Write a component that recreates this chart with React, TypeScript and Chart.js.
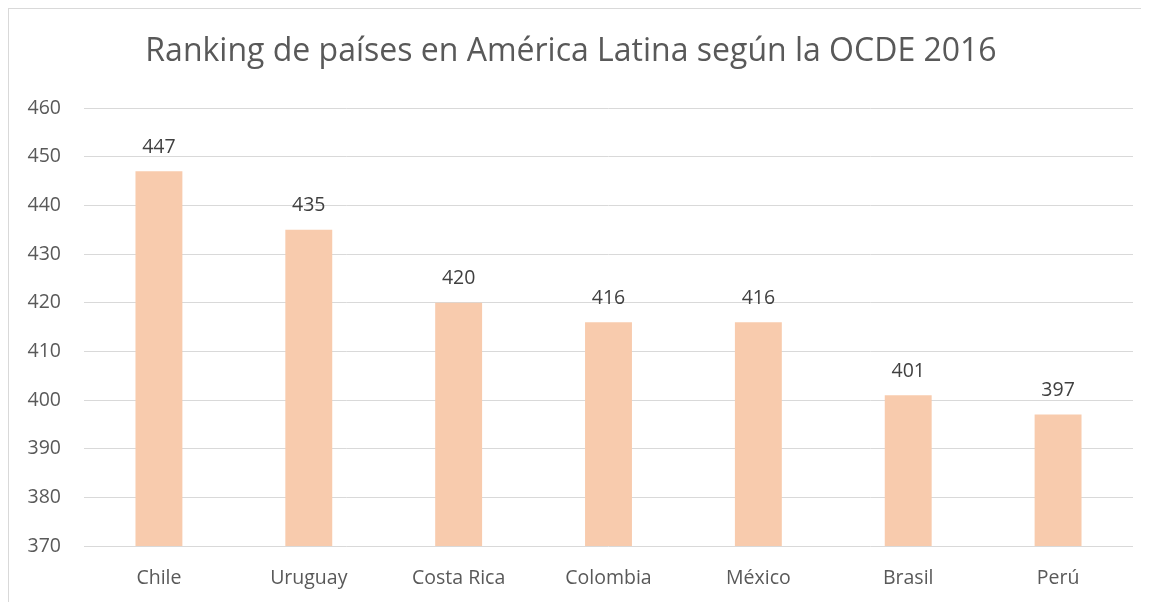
import React, { useEffect, useRef } from "react";
import { Chart, registerables } from "chart.js";

Chart.register(...registerables);

const TITLE = "Ranking de países en América Latina según la OCDE 2016";
const categories = ["Chile", "Uruguay", "Costa Rica", "Colombia", "México", "Brasil", "Perú"];
const scores = [447, 435, 420, 416, 416, 401, 397];
const Y_MIN = 370;
const Y_MAX = 460;
const Y_STEP = 10;

const FONT = "'Open Sans', sans-serif";

const dataLabels = {
  id: "dataLabels",
  afterDatasetsDraw(chart: any) {
    const ctx = chart.ctx;
    const meta = chart.getDatasetMeta(0);
    ctx.save();
    ctx.font = `19.5px ${FONT}`;
    ctx.fillStyle = "#404040";
    ctx.textAlign = "center";
    ctx.textBaseline = "middle";
    meta.data.forEach((bar: any, i: number) => {
      ctx.fillText(String(chart.data.datasets[0].data[i]), bar.x, bar.y - 24);
    });
    ctx.restore();
  },
};

export default function App() {
  const ref = useRef<HTMLCanvasElement | null>(null);
  useEffect(() => {
    if (!ref.current) return;
    const chart = new Chart(ref.current, {
      type: "bar",
      data: {
        labels: categories,
        datasets: [
          {
            data: scores,
            backgroundColor: "#F8CBAD",
            categoryPercentage: 1,
            barPercentage: 0.313,
          },
        ],
      },
      options: {
        animation: false,
        responsive: true,
        maintainAspectRatio: false,
        layout: { padding: { left: 0, right: 16, top: 0, bottom: 0 } },
        plugins: {
          legend: { display: false },
          tooltip: { enabled: false },
          title: {
            display: true,
            text: TITLE,
            color: "#595959",
            font: { family: FONT, size: 32, weight: "normal" },
            padding: { top: 24, bottom: 36.6 },
          },
        },
        scales: {
          x: {
            grid: { display: false },
            border: { display: false },
            ticks: { color: "#595959", font: { family: FONT, size: 19.5 }, padding: 13 },
            afterFit: (s: any) => {
              s.height = 56;
            },
          },
          y: {
            min: Y_MIN,
            max: Y_MAX,
            ticks: { stepSize: Y_STEP, color: "#595959", font: { family: FONT, size: 19.5 }, padding: 23 },
            grid: { color: "#d9d9d9", lineWidth: 1, drawTicks: false },
            border: { display: false },
            afterFit: (s: any) => {
              s.width = 75;
            },
          },
        },
      },
      plugins: [dataLabels],
    });
    return () => chart.destroy();
  }, []);
  return (
    <div
      style={{
        width: 1140,
        height: 593,
        borderLeft: "1px solid #d9d9d9",
        borderTop: "1px solid #d9d9d9",
        background: "#fff",
      }}
    >
      <canvas ref={ref} />
    </div>
  );
}
